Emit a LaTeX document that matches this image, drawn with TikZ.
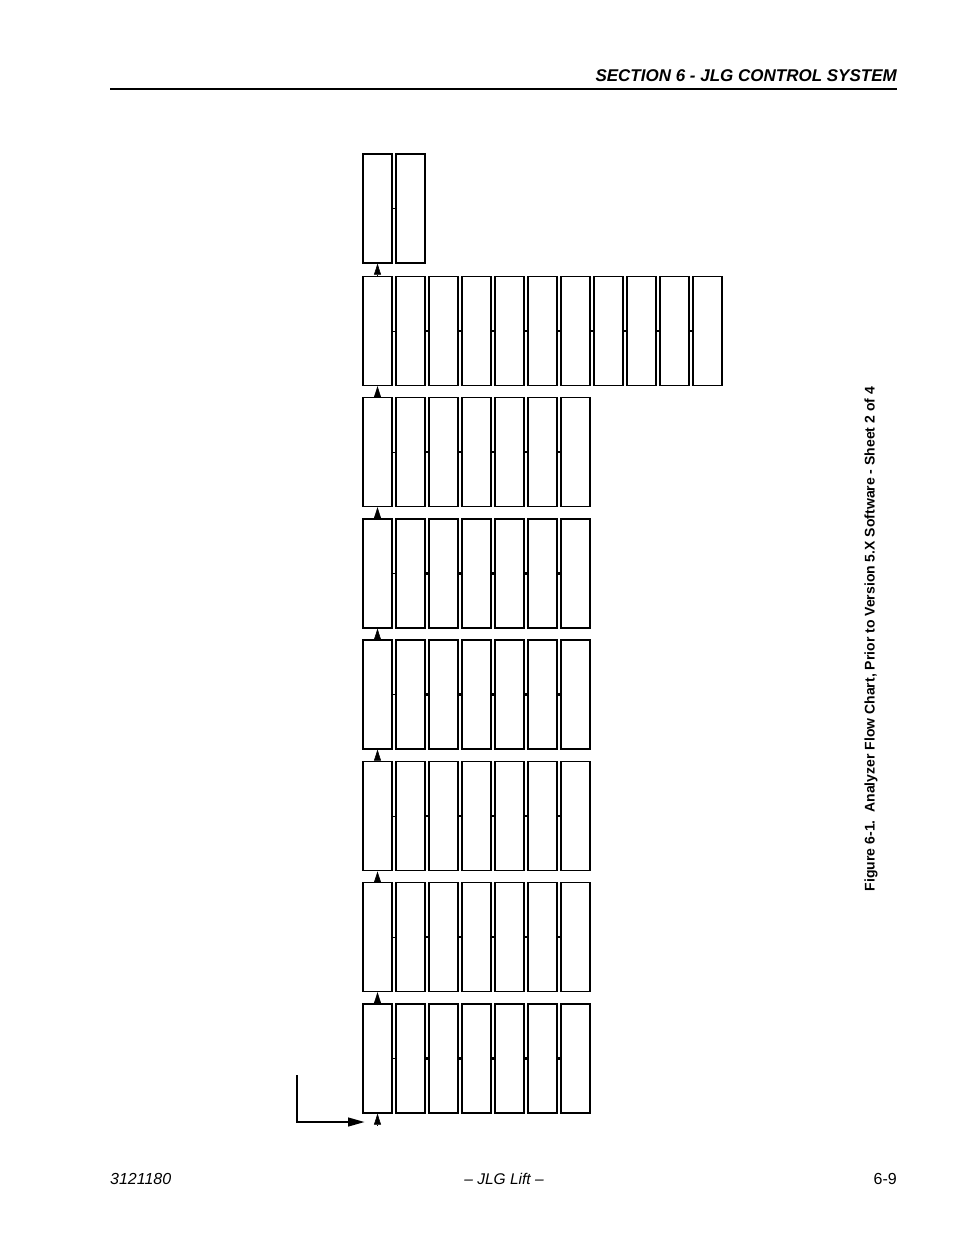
\documentclass[tikz,border=0pt]{standalone}
\usepackage{fontspec}
\setmainfont{Liberation Sans}
\usetikzlibrary{arrows.meta}
\tikzset{
  cell/.style={draw, line width=#1pt, minimum width=29pt, minimum height=109pt, inner sep=0pt},
  cell/.default=1.3,
  flow/.style={-{Triangle[length=11pt,width=7pt]}, line width=0.6pt},
  link/.style={line width=0.9pt},
  tick/.style={line width=2.2pt},
  feed/.style={-{Triangle[length=17pt,width=8.5pt]}, line width=2.7pt},
}
\begin{document}
\begin{tikzpicture}[x=1pt,y=-1pt]
    \useasboundingbox (0,0) rectangle (954,1235);
    % page header
    \draw[line width=1.2pt] (110,89) -- (897,89);
    \node[anchor=base east, inner sep=0pt, font=\fontsize{17}{20}\selectfont\bfseries\itshape] (head) at (897,81) {SECTION 6 - JLG CONTROL SYSTEM};
    % rows of boxes, top to bottom
    \foreach \r/\n/\y/\w in {1/2/208.5/1.3, 2/11/331/1.3, 3/7/452/1.3, 4/7/573.5/1.3, 5/7/694.5/1.3, 6/7/816/1.9, 7/7/937/1.3, 8/7/1058.5/1.3} {
        \foreach \c in {1,...,\n}
            \node[cell=\w] (b-\r-\c) at ({377.5+(\c-1)*33},\y) {};
        \draw[link] (b-\r-1.east) -- (b-\r-2.west);
        \ifnum\n>2
            \foreach \c [evaluate=\c as \p using int(\c-1)] in {3,...,\n}
                \draw[tick] (b-\r-\p.east) -- (b-\r-\c.west);
        \fi
    }
    % arrows up the first column
    \foreach \r [evaluate=\r as \s using int(\r+1)] in {1,...,7}
        \draw[flow] (b-\s-1.north) -- (b-\r-1.south);
    \coordinate (entry) at (377.5,1125);
    \draw[flow] (entry) -- (b-8-1.south);
    % incoming arrow
    \coordinate (start) at (297,1075);
    \coordinate (inlet) at (365,1122);
    \draw[feed] (start) |- (inlet);
    % caption
    \node[rotate=90, inner sep=0pt, font=\fontsize{14}{16}\selectfont\bfseries] (cap) at (871,639) {Figure 6-1.\ \ Analyzer Flow Chart, Prior to Version 5.X Software - Sheet 2 of 4};
    % page footer
    \node[anchor=base west, inner sep=0pt, font=\fontsize{16}{19}\selectfont\itshape] (docno) at (110,1184) {3121180};
    \node[anchor=base, inner sep=0pt, font=\fontsize{15.5}{19}\selectfont\itshape] (brand) at (504,1184) {– JLG Lift –};
    \node[anchor=base east, inner sep=0pt, font=\fontsize{16}{19}\selectfont] (page) at (897,1184) {6-9};
\end{tikzpicture}
\end{document}
